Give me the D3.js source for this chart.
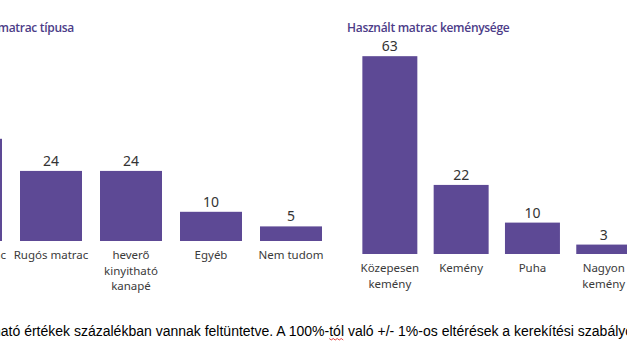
<!DOCTYPE html>
<html>
<head>
<meta charset="utf-8">
<script src="https://cdn.jsdelivr.net/npm/d3@7"></script>
<style>
  body { margin: 0; background: #fff; overflow: hidden; }
  svg { display: block; }
</style>
</head>
<body>
<script>
// data (left chart's first bar is cut off by the crop)
var typeCats = ["Latex matrac", "Rugós matrac", "heverő kinyitható kanapé", "Egyéb", "Nem tudom"];
var typeVals = [35, 24, 24, 10, 5];

var hardCats = ["Közepesen kemény", "Kemény", "Puha", "Nagyon kemény"];
var hardVals = [63, 22, 10, 3];

var titles = ["Használt matrac típusa", "Használt matrac keménysége"];
var footnote = "Az ábrán látható értékek százalékban vannak feltüntetve. A 100%-tól való +/- 1%-os eltérések a kerekítési szabályokból adódnak.";

var svgWidth = 627;
var svgHeight = 352;

var barColor = "#5d4995";
var titleColor = "#4c3c88";
var textColor = "#3a3a3a";
var labelFont = "'Noto Sans', 'Open Sans', sans-serif";

var svg = d3.select("body").append("svg")
    .attr("width", svgWidth)
    .attr("height", svgHeight);

// one bar panel
function drawPanel(cats, vals, opt) {
    var x = d3.scaleBand()
        .domain(cats)
        .range(opt.xRange)
        .paddingInner(opt.padIn)
        .paddingOuter(opt.padIn / 2);

    var y = d3.scaleLinear()
        .domain([0, 100])
        .range([opt.base, opt.base - 100 * opt.pxPerUnit]);

    var g = svg.append("g");

    var rows = cats.map((c, i) => ({ cat: c, val: vals[i] }));

    g.selectAll(".bar")
        .data(rows)
        .enter()
        .append("rect")
        .attr("class", "bar")
        .attr("x", d => x(d.cat))
        .attr("y", d => y(d.val))
        .attr("width", x.bandwidth())
        .attr("height", d => y(0) - y(d.val))
        .attr("fill", barColor);

    // value labels
    g.selectAll(".val")
        .data(rows)
        .enter()
        .append("text")
        .attr("class", "val")
        .attr("x", d => x(d.cat) + x.bandwidth() / 2)
        .attr("y", d => y(d.val) - 5)
        .attr("text-anchor", "middle")
        .style("font-family", labelFont)
        .style("font-size", "14px")
        .style("fill", "#333")
        .text(d => d.val);

    // category labels, wrapped to the band width
    var lab = g.selectAll(".cat")
        .data(rows)
        .enter()
        .append("text")
        .attr("class", "cat")
        .attr("text-anchor", "middle")
        .style("font-family", labelFont)
        .style("font-size", "11.5px")
        .style("fill", textColor);

    lab.each(function(d) {
        var t = d3.select(this);
        var cx = x(d.cat) + x.bandwidth() / 2;
        var words = d.cat.split(" ");
        var lines = [];
        var cur = "";
        var probe = t.append("tspan");
        words.forEach(w => {
            var test = cur ? cur + " " + w : w;
            probe.text(test);
            if (cur && probe.node().getComputedTextLength() > opt.wrap) {
                lines.push(cur);
                cur = w;
            } else {
                cur = test;
            }
        });
        lines.push(cur);
        probe.remove();
        lines.forEach((ln, i) => {
            t.append("tspan")
                .attr("x", cx)
                .attr("y", opt.base + 18 + i * 15.6)
                .text(ln);
        });
    });

    // chart title
    g.append("text")
        .attr("x", opt.titleX)
        .attr("y", 32)
        .attr("text-anchor", opt.titleAnchor)
        .style("font-family", "'Open Sans', sans-serif")
        .style("font-weight", 600)
        .style("font-size", "12px")
        .style("letter-spacing", "-0.3px")
        .style("fill", titleColor)
        .text(opt.title);
}

drawPanel(typeCats, typeVals, {
    xRange: [-69, 331], padIn: 0.225, base: 241, pxPerUnit: 2.92,
    wrap: 84, title: titles[0], titleX: 74, titleAnchor: "end"
});

drawPanel(hardCats, hardVals, {
    xRange: [354.2, 639.4], padIn: 0.229, base: 254, pxPerUnit: 3.14,
    wrap: 70, title: titles[1], titleX: 347, titleAnchor: "start"
});

// footnote (shifted so the crop starts inside "látható")
var foot = svg.append("text")
    .attr("y", 335.5)
    .style("font-family", "'Liberation Sans', Arial, sans-serif")
    .style("font-size", "14px")
    .style("fill", "#000")
    .text(footnote);

var fn = foot.node();
var hAt = footnote.indexOf("ható");
var shift = -7 - fn.getSubStringLength(0, hAt);
foot.attr("x", shift);

// spell-check squiggle under "tól"
var tAt = footnote.indexOf("tól");
var sx = shift + fn.getSubStringLength(0, tAt);
var sw = fn.getSubStringLength(tAt, 3);
var zig = [];
for (var i = 0; i <= Math.round(sw / 2); i++) {
    zig.push([sx + i * 2, 338.5 + (i % 2 ? 1.5 : 0)]);
}
svg.append("path")
    .attr("d", d3.line()(zig))
    .attr("fill", "none")
    .attr("stroke", "#e03030")
    .attr("stroke-width", 0.9);
</script>
</body>
</html>
